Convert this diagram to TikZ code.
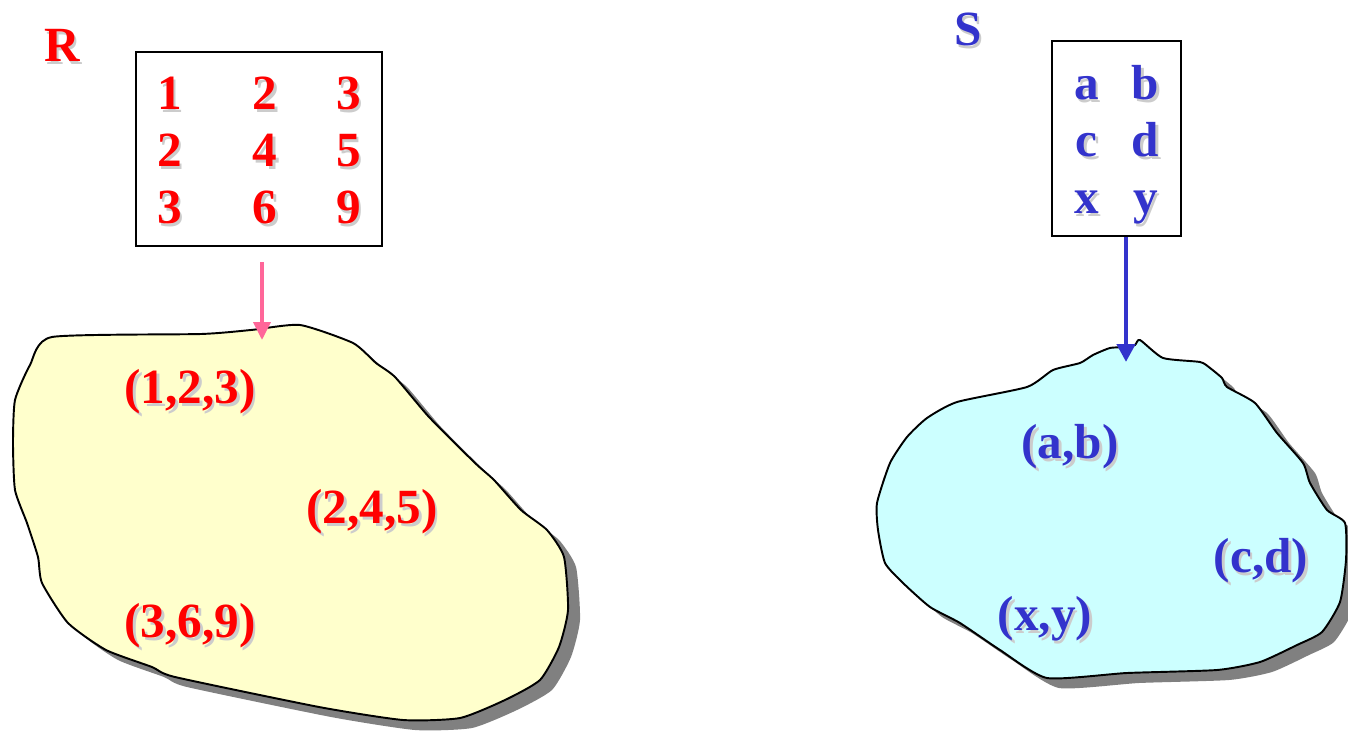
\documentclass[tikz,border=0pt]{standalone}
\usepackage{fontspec}
\setmainfont{Liberation Serif}
\usetikzlibrary{arrows.meta}
\definecolor{relred}{RGB}{255,0,0}
\definecolor{relblue}{RGB}{51,51,204}
\definecolor{arrpink}{RGB}{255,102,153}
\definecolor{setyellow}{RGB}{255,255,204}
\definecolor{setcyan}{RGB}{204,255,255}
\definecolor{blobshade}{RGB}{128,128,128}
\newcommand\shtxt[1]{\makebox[0pt][l]{\kern1.5pt\raisebox{-1.5pt}{\color{black!20}#1}}#1}
\newcommand\blobR{(52,337) (201,334) (251,330) (300,325) (353,343) (376,363) (395,377) (429,417) (475,463) (494,480) (521,510) (547,530) (564,557) (568,610) (559,647) (540,680) (505,700) (460,718) (403,720) (319,707) (175,677) (152,667) (106,650) (68,623) (42,583) (38,557) (27,523) (15,490) (13,443) (15,400) (30,365)}
\newcommand\blobS{(1127,347) (1110,348) (1093,355) (1080,363) (1053,370) (1027,387) (957,402) (927,418) (907,437) (890,463) (877,503) (878,530) (885,563) (903,583) (930,607) (960,623) (1000,650) (1047,678) (1127,673) (1217,670) (1260,662) (1297,645) (1322,632) (1340,602) (1346,560) (1345,523) (1327,510) (1310,483) (1303,463) (1277,433) (1255,403) (1227,387) (1222,378) (1210,368) (1200,362) (1163,358) (1140,340) (1135,345)}
\begin{document}
\begin{tikzpicture}[
  x=0.02cm, y=-0.02cm,
  txt/.style={font=\fontsize{28}{32.4}\selectfont\bfseries, inner sep=0pt},
  relbox/.style={draw, line width=1.1pt, fill=white, inner sep=0pt},
  blobline/.style={draw, line width=1.1pt},
  blobshadow/.style={fill=blobshade}]
  \useasboundingbox (0,0) rectangle (1348,733);

  % relation R
  \fill[blobshadow, shift={(12,10)}] plot[smooth cycle, tension=0.35] coordinates {\blobR};
  \filldraw[blobline, fill=setyellow] plot[smooth cycle, tension=0.35] coordinates {\blobR};
  \node[txt, text=relred] (rname) at (62,47) {\shtxt{R}};
  \node[relbox, txt, text=relred, minimum width=4.92cm, minimum height=3.88cm] (rbox) at (259,149)
    {\raisebox{-0.13cm}[\height][\depth]{\begin{tabular}{@{}c@{\hspace{1.42cm}}c@{\hspace{1.18cm}}c@{}}
      \shtxt{1} & \shtxt{2} & \shtxt{3}\\
      \shtxt{2} & \shtxt{4} & \shtxt{5}\\
      \shtxt{3} & \shtxt{6} & \shtxt{9}
    \end{tabular}}};
  \node[txt, text=relred] (r1) at (190,393) {\shtxt{(1,2,3)}};
  \node[txt, text=relred] (r2) at (372,513) {\shtxt{(2,4,5)}};
  \node[txt, text=relred] (r3) at (190,627) {\shtxt{(3,6,9)}};
  \coordinate (rtail) at (262,262);
  \coordinate (rtip) at (262,340);
  \draw[arrpink, line width=2.2pt, -{Triangle[length=0.36cm, width=0.34cm]}] (rtail) -- (rtip);

  % relation S
  \fill[blobshadow, shift={(12,10)}] plot[smooth cycle, tension=0.35] coordinates {\blobS};
  \filldraw[blobline, fill=setcyan] plot[smooth cycle, tension=0.35] coordinates {\blobS};
  \node[txt, text=relblue] (sname) at (968,31) {\shtxt{S}};
  \node[relbox, txt, text=relblue, minimum width=2.58cm, minimum height=3.9cm] (sbox) at (1116.5,138.5)
    {\raisebox{-0.14cm}[\height][\depth]{\begin{tabular}{@{}c@{\hspace{0.66cm}}c@{}}
      \shtxt{a} & \shtxt{b}\\
      \shtxt{c} & \shtxt{d}\\
      \shtxt{x} & \shtxt{y}
    \end{tabular}}};
  \node[txt, text=relblue] (s1) at (1070,448) {\shtxt{(a,b)}};
  \node[txt, text=relblue] (s2) at (1261,562) {\shtxt{(c,d)}};
  \node[txt, text=relblue] (s3) at (1045,620) {\shtxt{(x,y)}};
  \coordinate (stip) at (1126,362);
  \draw[relblue, line width=2.5pt, -{Triangle[length=0.36cm, width=0.36cm]}] (sbox.south -| stip) -- (stip);
\end{tikzpicture}
\end{document}
